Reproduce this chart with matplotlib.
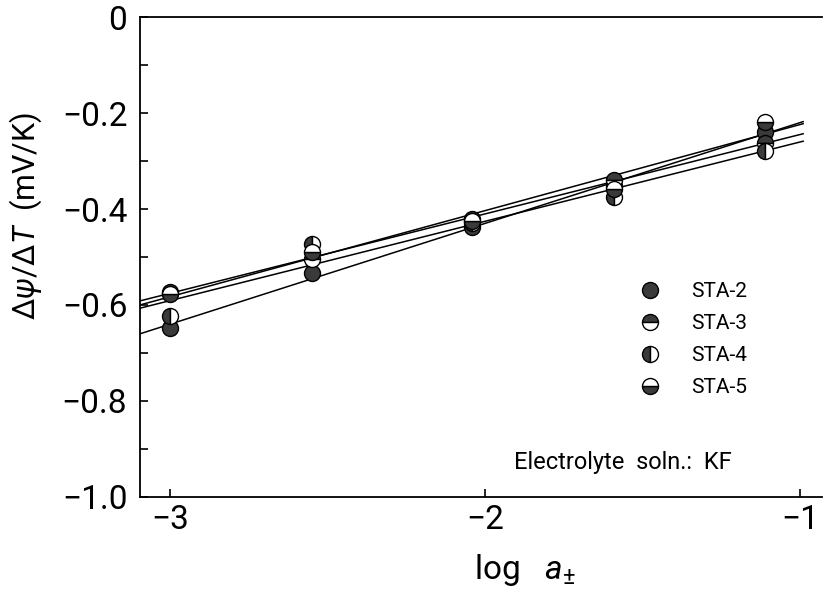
import numpy as np
import matplotlib
matplotlib.use("Agg")
import matplotlib.pyplot as plt
from matplotlib.lines import Line2D

plt.rcParams["font.family"] = ["Roboto", "DejaVu Sans"]
plt.rcParams["mathtext.fontset"] = "custom"
plt.rcParams["mathtext.rm"] = "Roboto"
plt.rcParams["mathtext.it"] = "Roboto:italic"

# log a± for each concentration
log_a = [-3.0, -2.55, -2.04, -1.59, -1.11]

# dPsi/dT (mV/K)
sta2 = [-0.648, -0.533, -0.438, -0.352, -0.240]
sta3 = [-0.572, -0.505, -0.420, -0.340, -0.262]
sta4 = [-0.622, -0.473, -0.428, -0.375, -0.278]
sta5 = [-0.578, -0.490, -0.425, -0.358, -0.218]

labels = ["STA-2", "STA-3", "STA-4", "STA-5"]
series = [sta2, sta3, sta4, sta5]
fills = ["full", "top", "left", "bottom"]

DARK = "#3a3a3a"

fig = plt.figure(figsize=(8.27, 5.95), dpi=100)
ax = fig.add_axes([0.169, 0.165, 0.825, 0.806])

xfit = np.array([-3.095, -0.99])
for y in series:
    k, b = np.polyfit(log_a, y, 1)
    ax.plot(xfit, k * xfit + b, color="black", lw=1.1, zorder=2)

for y, fs in zip(series, fills):
    ax.plot(log_a, y, ls="none", marker="o", ms=11.5, fillstyle=fs,
            markerfacecolor=DARK, markerfacecoloralt="white",
            markeredgecolor="black", markeredgewidth=1.0, zorder=3)

handles = [Line2D([0], [0], ls="none", marker="o", ms=11.5, fillstyle=fs,
                  markerfacecolor=DARK, markerfacecoloralt="white",
                  markeredgecolor="black", markeredgewidth=1.0)
           for fs in fills]
ax.legend(handles, labels, loc="upper left", bbox_to_anchor=(0.705, 0.465),
          frameon=False, handletextpad=1.0, labelspacing=0.62,
          borderaxespad=0, prop={"family": "Roboto", "size": 15})

ax.text(0.548, 0.072, "Electrolyte  soln.:  KF", transform=ax.transAxes,
        fontsize=17, ha="left", va="center")

ax.set_xlim(-3.095, -0.93)
ax.set_ylim(-1.0, 0.0)
ax.set_xticks([-3, -2, -1])
ax.set_xticklabels(["\u22123", "\u22122", "\u22121"])
ax.set_yticks([0, -0.2, -0.4, -0.6, -0.8, -1.0])
ax.set_yticklabels(["0", "\u22120.2", "\u22120.4", "\u22120.6", "\u22120.8", "\u22121.0"])
ax.set_yticks(np.arange(-1.0, 0.01, 0.1), minor=True)
ax.tick_params(which="both", direction="in", length=6, width=1.2, labelsize=24)
ax.tick_params(axis="y", which="minor", length=6, width=1.2)
ax.tick_params(axis="y", pad=9)
ax.tick_params(axis="x", pad=5)

ax.spines["right"].set_visible(False)
for side in ["left", "bottom", "top"]:
    ax.spines[side].set_linewidth(1.3)

ax.set_xlabel(r"log   $\mathit{a}_{\pm}$", fontsize=24)
ax.xaxis.set_label_coords(0.565, -0.115)
ax.set_ylabel(r"$\Delta\psi/\Delta\mathit{T}$  (mV/K)", fontsize=22)
ax.yaxis.set_label_coords(-0.14, 0.585)

fig.savefig("out.png", dpi=100)
